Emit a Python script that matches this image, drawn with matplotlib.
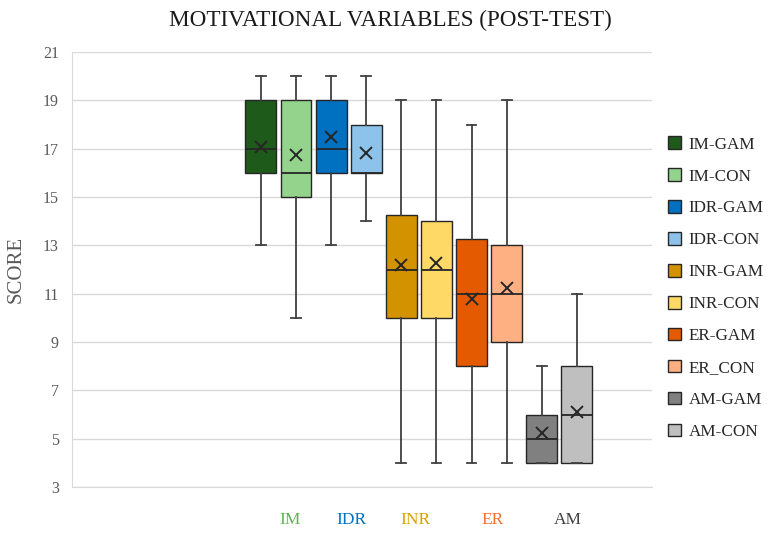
import numpy as np
import matplotlib
matplotlib.use("Agg")
import matplotlib.pyplot as plt
from matplotlib.patches import Patch

plt.rcParams['font.family'] = ['Liberation Serif', 'DejaVu Serif']

# 데이터
series = ['IM-GAM', 'IM-CON', 'IDR-GAM', 'IDR-CON', 'INR-GAM',
          'INR-CON', 'ER-GAM', 'ER_CON', 'AM-GAM', 'AM-CON']
whis_lo = [13, 10, 13, 14, 4, 4, 4, 4, 4, 4]
q1 = [16, 15, 16, 16, 10, 10, 8, 9, 4, 4]
median = [17, 16, 17, 16, 12, 12, 11, 11, 5, 6]
q3 = [19, 19, 19, 18, 14.27, 14, 13.27, 13, 6, 8]
whis_hi = [20, 20, 20, 20, 19, 19, 18, 19, 8, 11]
means = [17.07, 16.72, 17.47, 16.81, 12.2, 12.28, 10.8, 11.24, 5.25, 6.1]

groups = ['IM', 'IDR', 'INR', 'ER', 'AM']
group_colors = ['#5DB54F', '#0070C0', '#D9A300', '#F07030', '#404040']

box_colors = ['#1E5A1A', '#94D38B', '#0070C0', '#8DC3EA', '#D39200',
              '#FFD966', '#E35A00', '#FFB083', '#808080', '#BFBFBF']

yticks = list(range(3, 22, 2))

fig = plt.figure(figsize=(7.77, 5.34), dpi=100)
ax = fig.add_axes([72 / 777, 1 - 487 / 534, (652 - 72) / 777, (487 - 52) / 534])

stats = []
for i, name in enumerate(series):
    stats.append(dict(label=name, whislo=whis_lo[i], q1=q1[i], med=median[i],
                      q3=q3[i], whishi=whis_hi[i], mean=means[i]))

pos = np.arange(len(series))
bp = ax.bxp(stats, positions=pos, widths=0.88, patch_artist=True,
            showmeans=True, showfliers=False,
            boxprops=dict(edgecolor='#262626', linewidth=1.0),
            medianprops=dict(color='#262626', linewidth=1.3),
            whiskerprops=dict(color='#404040', linewidth=1.3),
            capprops=dict(color='#404040', linewidth=1.3),
            capwidths=0.28,
            meanprops=dict(marker='x', markeredgecolor='#262626',
                           markersize=9, markeredgewidth=1.4))
for patch, c in zip(bp['boxes'], box_colors):
    patch.set_facecolor(c)
    patch.set_zorder(2)

ax.set_xlim(-5.38, 11.14)
ax.set_ylim(3, 21)
ax.set_yticks(yticks)
ax.set_yticklabels([str(t) for t in yticks], color='#595959', fontsize=11.5)
ax.tick_params(axis='y', length=0, pad=9.5)
ax.set_xticks([])
ax.grid(axis='y', color='#D9D9D9', linewidth=1.0, zorder=0)
ax.set_axisbelow(True)
for s in ['top', 'right']:
    ax.spines[s].set_visible(False)
ax.spines['left'].set_color('#D9D9D9')
ax.spines['bottom'].set_color('#D9D9D9')

ax.set_ylabel('SCORE', color='#595959', fontsize=15)
ax.yaxis.set_label_coords(-46 / 580, 0.5)

# 그룹 라벨 (색상 텍스트)
label_x = [0.83, 2.59, 4.39, 6.61, 8.75]
for g, c, x in zip(groups, group_colors, label_x):
    ax.text(x, -0.076, g, color=c, fontsize=12.5, ha='center', va='center',
            transform=ax.get_xaxis_transform())

fig.text(0.502, 0.961, 'MOTIVATIONAL VARIABLES (POST-TEST)', ha='center',
         va='center', fontsize=16.7, color='#1A1A1A')

handles = [Patch(facecolor=c, edgecolor='#262626', label=n)
           for c, n in zip(box_colors, series)]
fig.legend(handles=handles, loc='upper left', bbox_to_anchor=(653 / 777, 1 - 121 / 534),
           frameon=False, fontsize=12.3, handlelength=0.75, handleheight=0.75,
           handletextpad=0.45, labelspacing=0.92, labelcolor='#262626')

fig.savefig('out.png', dpi=100)
